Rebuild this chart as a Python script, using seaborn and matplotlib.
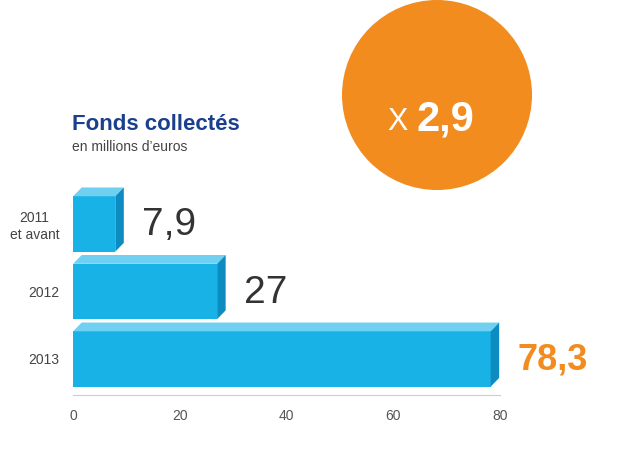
import matplotlib
matplotlib.use("Agg")
import matplotlib.pyplot as plt
import seaborn as sns
import pandas as pd
from matplotlib.patches import Polygon, Circle

plt.rcParams["font.family"] = "Liberation Sans"

categories = ["2011\net avant", "2012", "2013"]
values = [7.9, 27, 78.3]
labels = ["7,9", "27", "78,3"]
ticks = [0, 20, 40, 60, 80]

front = "#19b2e6"; topc = "#6fd0f2"; sidec = "#0c8cc0"; orange = "#f28c1e"

fig = plt.figure(figsize=(6.2, 4.65), dpi=100)
ax = fig.add_axes([0.118, 0.151, 0.688, 0.44])
df = pd.DataFrame({"cat": categories, "val": values})
sns.barplot(data=df, x="val", y="cat", orient="h", color=front, width=0.82,
            saturation=1, ax=ax)
ax.set_xlim(0, 80)
ax.set_ylim(2.53, -0.5)
dx, dy, h = 1.6, 0.13, 0.41
for i, v in enumerate(values):
    ax.add_patch(Polygon([(0, i - h), (v, i - h), (v + dx, i - h - dy), (dx, i - h - dy)],
                         closed=True, color=topc, lw=0, clip_on=False))
    ax.add_patch(Polygon([(v, i - h), (v + dx, i - h - dy), (v + dx, i + h - dy), (v, i + h)],
                         closed=True, color=sidec, lw=0, clip_on=False))
    if i < 2:
        ax.text(v + 5, i + 0.02, labels[i], fontsize=28, color="#333333", va="center", ha="left")
    else:
        ax.text(v + 5, i + 0.02, labels[i], fontsize=26, color=orange, fontweight="bold",
                va="center", ha="left")
ax.set_xticks(ticks)
ax.set_xticklabels([str(t) for t in ticks], color="#555555", fontsize=10)
ax.set_yticks(range(3))
ax.set_yticklabels(categories, color="#444444", fontsize=10, multialignment="center")
ax.tick_params(length=0, pad=10)
ax.set_xlabel(""); ax.set_ylabel("")
for s in ["top", "right", "left"]:
    ax.spines[s].set_visible(False)
ax.spines["bottom"].set_color("#cccccc")

fig.text(72/620, 1 - 125/465, "Fonds collectés", fontsize=16, fontweight="bold",
         color="#1b3f8e", va="center")
fig.text(72/620, 1 - 147/465, "en millions d\u2019euros", fontsize=10, color="#444444", va="center")

cax = fig.add_axes([0, 0, 1, 1], zorder=-1)
cax.set_xlim(0, 620); cax.set_ylim(465, 0); cax.axis("off")
cax.add_patch(Circle((437, 95), 95, color=orange, lw=0))
cax.text(408, 130, "X", fontsize=22, color="white", ha="right", va="baseline")
cax.text(416, 130, "2,9", fontsize=30, color="white", fontweight="bold", ha="left", va="baseline")
fig.savefig("out.png", dpi=100)
